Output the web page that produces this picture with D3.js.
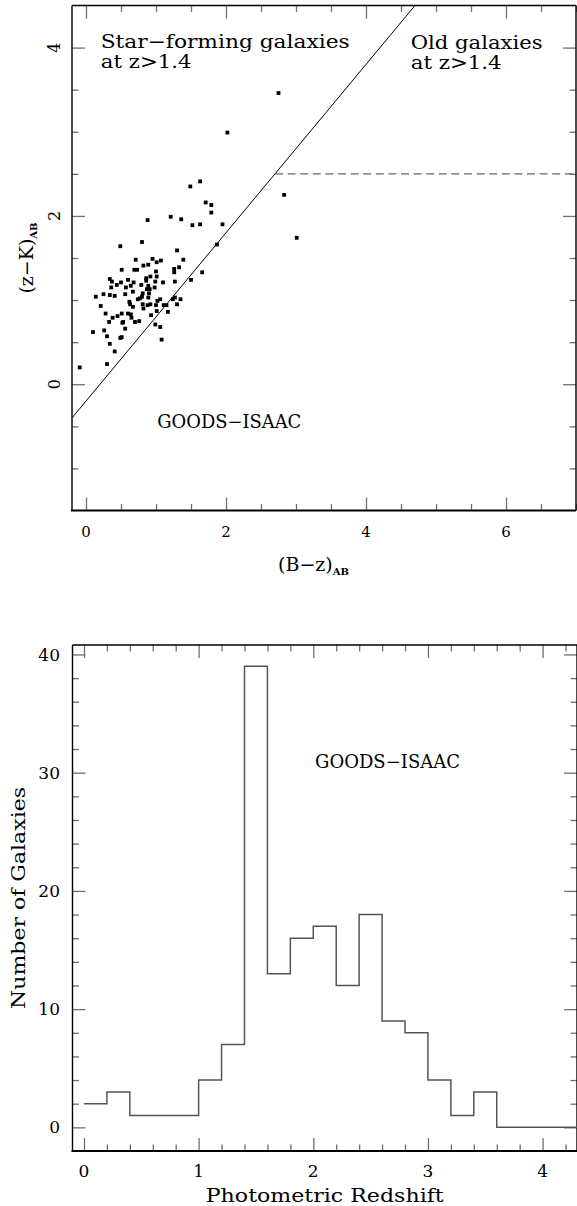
<!DOCTYPE html>
<html><head><meta charset="utf-8">
<script src="https://cdn.jsdelivr.net/npm/d3@7"></script>
<style>
body{margin:0;background:#fff}
text{font-family:"DejaVu Serif",serif;fill:#000}
</style>
</head><body>
<svg id="c" width="577" height="1206"></svg>
<script>
// ---------- DATA ----------
// Top panel: (B-z)_AB vs (z-K)_AB for GOODS-ISAAC galaxies
const bzColor = [1.49,1.63,2.83,1.71,1.79,1.79,0.88,1.21,1.36,1.52,1.63,1.95,3.01,1.87,0.80,0.49,1.30,0.71,0.95,1.01,
  1.07,1.39,0.82,0.89,0.51,0.69,0.73,1.00,1.26,1.33,1.26,1.66,0.92,0.86,1.01,0.34,0.37,0.50,0.60,0.68,
  0.86,0.99,1.10,1.27,1.50,0.44,0.64,0.57,0.79,0.89,0.98,0.36,0.87,0.91,0.67,0.81,0.90,0.25,0.34,0.41,
  0.56,0.14,0.80,0.89,0.77,0.74,0.62,0.63,0.67,0.81,0.88,0.92,1.00,1.02,1.06,1.11,1.15,1.24,1.27,1.35,
  1.30,0.21,0.82,1.01,1.17,0.28,0.51,0.60,0.64,0.93,0.38,0.45,0.65,0.33,0.52,0.53,0.70,0.76,0.56,0.26,
  0.99,1.06,0.10,0.30,0.49,0.51,1.08,0.34,0.41,0.30,-0.09,2.75,2.02];
const zkColor = [2.35,2.41,2.25,2.16,2.13,2.04,1.95,1.99,1.96,1.89,1.90,1.90,1.74,1.66,1.69,1.64,1.59,1.48,1.49,1.45,
  1.47,1.48,1.41,1.42,1.36,1.36,1.36,1.34,1.37,1.39,1.33,1.33,1.28,1.26,1.28,1.25,1.22,1.21,1.24,1.21,
  1.23,1.22,1.21,1.22,1.24,1.18,1.17,1.15,1.18,1.17,1.15,1.15,1.13,1.13,1.10,1.08,1.08,1.07,1.06,1.05,
  1.07,1.04,1.04,1.03,1.02,1.01,0.98,0.95,0.92,0.95,0.94,0.95,0.94,0.99,1.01,0.94,0.94,1.01,1.03,1.01,
  0.95,0.93,0.90,0.87,0.86,0.84,0.84,0.84,0.83,0.82,0.79,0.81,0.79,0.74,0.73,0.74,0.74,0.75,0.66,0.64,
  0.71,0.68,0.62,0.57,0.55,0.56,0.53,0.48,0.39,0.24,0.20,3.46,2.99];
// BzK criterion: (z-K) = (B-z) - 0.2 ; passive cut (z-K) > 2.5
const bzkLineX = [-0.2, 4.7];
const bzkOffset = -0.2;
const passiveZK = 2.5;
const passiveStartBz = 2.7;
const topXTicks = [0, 2, 4, 6];
const topYTicks = [0, 2, 4];

// Bottom panel: photometric redshift histogram, bins of 0.2
const zBinLeft = [0,0.2,0.4,0.6,0.8,1.0,1.2,1.4,1.6,1.8,2.0,2.2,2.4,2.6,2.8,3.0,3.2,3.4,3.6,3.8,4.0];
const zCounts  = [2,3,1,1,1,4,7,39,13,16,17,12,18,9,8,4,1,3,0,0,0];
const botXTicks = [0, 1, 2, 3, 4];
const botYTicks = [0, 10, 20, 30, 40];

// ---------- DRAW ----------
const svg = d3.select('#c');
const tickCol = '#707070';

function ticks(g, x, y, cfg) {
  const [x0, x1] = x.range(), [y0, y1] = y.range();
  const add = (fn, scale, vals, len, tr) => {
    const s = g.append('g').attr('transform', tr)
      .call(fn(scale).tickValues(vals).tickSizeInner(-len).tickSizeOuter(0).tickFormat(''));
    s.select('.domain').remove();
    s.selectAll('line').attr('stroke', tickCol).attr('stroke-width', 1.3);
  };
  const minorX = cfg.xMinor.filter(v => !cfg.xMajor.includes(v));
  const minorY = cfg.yMinor.filter(v => !cfg.yMajor.includes(v));
  add(d3.axisBottom, x, cfg.xMajor, 13, `translate(0,${y0})`);
  add(d3.axisBottom, x, minorX, 6.5, `translate(0,${y0})`);
  add(d3.axisTop, x, cfg.xMajor, 13, `translate(0,${y1})`);
  add(d3.axisTop, x, minorX, 6.5, `translate(0,${y1})`);
  add(d3.axisLeft, y, cfg.yMajor, 13, `translate(${x0},0)`);
  add(d3.axisLeft, y, minorY, 6.5, `translate(${x0},0)`);
  add(d3.axisRight, y, cfg.yMajor, 13, `translate(${x1},0)`);
  add(d3.axisRight, y, minorY, 6.5, `translate(${x1},0)`);
  // frame
  g.append('line').attr('x1', x0).attr('x2', x1).attr('y1', y1).attr('y2', y1).attr('stroke', '#000').attr('stroke-width', 1.6);
  g.append('line').attr('x1', x0).attr('x2', x0).attr('y1', y1).attr('y2', y0).attr('stroke', '#000').attr('stroke-width', 1.4);
  g.append('line').attr('x1', x1).attr('x2', x1).attr('y1', y1).attr('y2', y0).attr('stroke', '#000').attr('stroke-width', 1.4);
  g.append('line').attr('x1', x0 - 1).attr('x2', x1).attr('y1', y0).attr('y2', y0).attr('stroke', '#000').attr('stroke-width', 2.2);
}

function label(g, str, x, y, size, len, anchor) {
  return g.append('text').attr('x', x).attr('y', y).attr('font-size', size)
    .attr('text-anchor', anchor || 'start')
    .attr('textLength', len).attr('lengthAdjust', 'spacingAndGlyphs').text(str);
}

// ===== Top panel =====
const xA = d3.scaleLinear().domain([-0.2, 7.0]).range([72, 576]);
const yA = d3.scaleLinear().domain([-1.5, 4.5]).range([510.5, 5.5]);
const gA = svg.append('g');

ticks(gA, xA, yA, {
  xMajor: topXTicks, xMinor: d3.range(0, 7.01, 0.5).map(v => +v.toFixed(2)),
  yMajor: topYTicks, yMinor: d3.range(-1, 4.01, 0.5).map(v => +v.toFixed(2))
});

// x tick labels
gA.selectAll('.xl').data(topXTicks).join('text')
  .attr('x', d => xA(d)).attr('y', 537).attr('font-size', 15).attr('text-anchor', 'middle').text(d => d);
// y tick labels (parallel to axis)
gA.selectAll('.yl').data(topYTicks).join('text')
  .attr('transform', d => `translate(60,${yA(d)}) rotate(-90)`)
  .attr('font-size', 16).attr('text-anchor', 'middle').text(d => d);

// BzK line and passive cut
gA.append('line')
  .attr('x1', xA(bzkLineX[0])).attr('y1', yA(bzkLineX[0] + bzkOffset))
  .attr('x2', xA(bzkLineX[1])).attr('y2', yA(bzkLineX[1] + bzkOffset))
  .attr('stroke', '#000').attr('stroke-width', 1);
gA.append('line')
  .attr('x1', xA(passiveStartBz)).attr('y1', yA(passiveZK))
  .attr('x2', xA.range()[1]).attr('y2', yA(passiveZK))
  .attr('stroke', '#666').attr('stroke-width', 1.3).attr('stroke-dasharray', '8,4.6');

// points
const pts = bzColor.map((b, i) => ({b, k: zkColor[i]}));
const ps = 3.8;
gA.selectAll('.pt').data(pts).join('rect')
  .attr('x', d => xA(d.b) - ps / 2).attr('y', d => yA(d.k) - ps / 2)
  .attr('width', ps).attr('height', ps).attr('fill', '#000');

// annotations
label(gA, 'Star\u2212forming galaxies', 100.7, 48.3, 19, 249);
label(gA, 'at z>1.4', 100.7, 68.3, 19, 91);
label(gA, 'Old galaxies', 410.7, 49, 19, 132);
label(gA, 'at z>1.4', 410.7, 69.3, 19, 91);
label(gA, 'GOODS\u2212ISAAC', 157.3, 428.3, 18, 144);

// axis titles
const xt = gA.append('text').attr('x', 278).attr('y', 571).attr('font-size', 19);
xt.append('tspan').text('(B\u2212z)');
xt.append('tspan').attr('font-size', 10).attr('dy', 4).attr('font-weight', 'bold').text('AB');

const yt = gA.append('text').attr('transform', `translate(33,${(yA.range()[0] + yA.range()[1]) / 2}) rotate(-90)`)
  .attr('font-size', 19).attr('text-anchor', 'middle');
yt.append('tspan').text('(z\u2212K)');
yt.append('tspan').attr('font-size', 10).attr('dy', 4).attr('font-weight', 'bold').text('AB');

// ===== Bottom panel =====
const xB = d3.scaleLinear().domain([-0.1, 4.3]).range([72.5, 577]);
const yB = d3.scaleLinear().domain([-2, 40.8]).range([1151, 645]);
const gB = svg.append('g');

ticks(gB, xB, yB, {
  xMajor: botXTicks, xMinor: d3.range(0, 4.21, 0.2).map(v => +v.toFixed(2)),
  yMajor: botYTicks, yMinor: d3.range(0, 40.1, 2)
});

gB.selectAll('.xl').data(botXTicks).join('text')
  .attr('x', d => xB(d)).attr('y', 1177).attr('font-size', 17).attr('text-anchor', 'middle').text(d => d);
gB.selectAll('.yl').data(botYTicks).join('text')
  .attr('x', 60).attr('y', d => yB(d)).attr('dy', '0.36em').attr('font-size', 17).attr('text-anchor', 'end').text(d => d);

const stepPts = zBinLeft.map((z, i) => [z, zCounts[i]]);
stepPts.push([xB.domain()[1], zCounts[zCounts.length - 1]]);
gB.append('path')
  .attr('d', d3.line().x(d => xB(d[0])).y(d => yB(d[1])).curve(d3.curveStepAfter)(stepPts))
  .attr('fill', 'none').attr('stroke', '#555').attr('stroke-width', 1.5);

label(gB, 'GOODS\u2212ISAAC', 315, 768.3, 18, 145);
label(gB, 'Photometric Redshift', (xB.range()[0] + xB.range()[1]) / 2, 1201.7, 19, 238, 'middle');
gB.append('text').attr('transform', `translate(25,${(yB.range()[0] + yB.range()[1]) / 2}) rotate(-90)`)
  .attr('font-size', 19).attr('text-anchor', 'middle')
  .attr('textLength', 222).attr('lengthAdjust', 'spacingAndGlyphs').text('Number of Galaxies');
</script>
</body></html>
